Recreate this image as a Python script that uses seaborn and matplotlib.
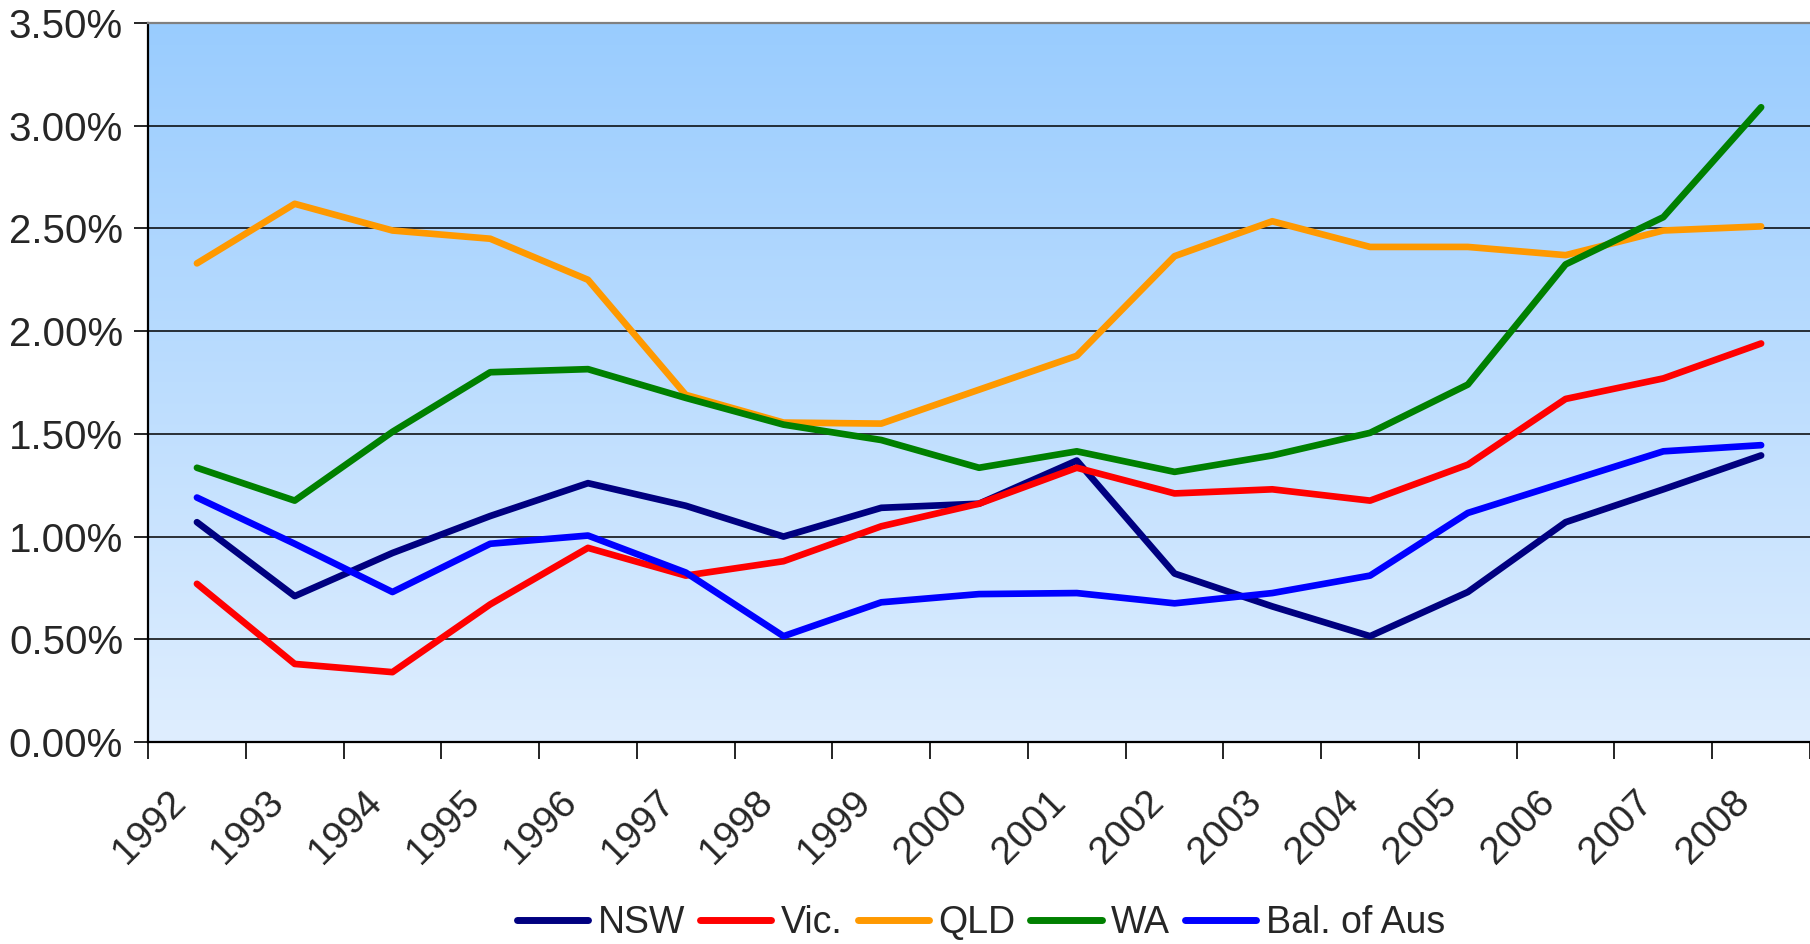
import numpy as np
import pandas as pd
import matplotlib
matplotlib.use("Agg")
import matplotlib.pyplot as plt
from matplotlib.ticker import PercentFormatter
import seaborn as sns

years = [str(y) for y in range(1992, 2009)]

nsw = [1.07, 0.71, 0.92, 1.10, 1.26, 1.15, 1.00, 1.14, 1.16, 1.37, 0.82, 0.66, 0.515, 0.73, 1.07, 1.23, 1.395]
vic = [0.77, 0.38, 0.34, 0.67, 0.945, 0.81, 0.88, 1.05, 1.16, 1.335, 1.21, 1.23, 1.175, 1.35, 1.67, 1.77, 1.94]
qld = [2.33, 2.62, 2.49, 2.45, 2.25, 1.69, 1.555, 1.55, 1.715, 1.88, 2.365, 2.535, 2.41, 2.41, 2.37, 2.49, 2.51]
wa = [1.335, 1.175, 1.51, 1.80, 1.815, 1.675, 1.545, 1.47, 1.335, 1.415, 1.315, 1.395, 1.505, 1.74, 2.325, 2.555, 3.09]
bal = [1.19, 0.965, 0.73, 0.965, 1.005, 0.825, 0.515, 0.68, 0.72, 0.725, 0.675, 0.725, 0.81, 1.115, 1.265, 1.415, 1.445]

series = ["NSW", "Vic.", "QLD", "WA", "Bal. of Aus"]
colors = ["#000080", "#FF0000", "#FF9900", "#008000", "#0000FF"]

df = pd.DataFrame({"x": range(len(years)), "NSW": nsw, "Vic.": vic,
                   "QLD": qld, "WA": wa, "Bal. of Aus": bal})
long = df.melt(id_vars="x", var_name="state", value_name="rate")

sns.set_style("white")
plt.rcParams["font.family"] = ["Liberation Sans", "DejaVu Sans"]

fig = plt.figure(figsize=(18.1, 9.44), dpi=100)
ax = fig.add_axes([0.0818, 0.214, 0.9182, 0.7616])

# gradient background
grad = np.linspace(0, 1, 256).reshape(-1, 1)
top = np.array([153, 204, 255]) / 255
bot = np.array([223, 238, 254]) / 255
img = (top * (1 - grad) + bot * grad).reshape(256, 1, 3)
ax.imshow(img, extent=[-0.5, 16.5, 0, 3.5], aspect="auto", zorder=0)

sns.lineplot(data=long, x="x", y="rate", hue="state", hue_order=series,
             palette=dict(zip(series, colors)), ax=ax, zorder=3, legend=True)
for ln in ax.get_lines():
    ln.set_linewidth(4.8)
    ln.set_solid_capstyle("round")
    ln.set_solid_joinstyle("round")

ax.set_xlim(-0.5, 16.5)
ax.set_ylim(0, 3.5)
ax.set_yticks(np.arange(0, 3.51, 0.5))
ax.yaxis.set_major_formatter(PercentFormatter(decimals=2))
ax.yaxis.grid(True, color="black", linewidth=1.1)
for gl in ax.get_ygridlines():
    gl.set_zorder(1)

# ticks on category boundaries; labels a bit left of each centre like excel
ax.set_xticks(np.arange(-0.5, 17, 1))
ax.set_xticklabels([])
ax.set_xticks(np.arange(len(years)) - 0.3, minor=True)
ax.set_xticklabels(years, minor=True, rotation=45, ha="right",
                   rotation_mode="anchor", fontsize=28)
ax.tick_params(axis="x", which="major", direction="out", length=12,
               width=1.2, color="black", bottom=True)
ax.tick_params(axis="x", which="minor", length=0, pad=30)
ax.tick_params(axis="y", direction="out", length=10, width=1.2,
               color="black", left=True, labelsize=29, pad=8)

ax.set_xlabel("")
ax.set_ylabel("")
for s in ["left", "bottom"]:
    ax.spines[s].set_color("black")
    ax.spines[s].set_linewidth(1.6)
ax.spines["top"].set_color("#808080")
ax.spines["top"].set_linewidth(1.6)
ax.spines["right"].set_visible(False)

handles, labels = ax.get_legend_handles_labels()
ax.get_legend().remove()
leg = fig.legend(handles, labels, loc="center", bbox_to_anchor=(0.542, 0.022),
                 ncol=5, frameon=False, fontsize=27, handlelength=1.9,
                 handletextpad=0.25, columnspacing=0.4, borderpad=0)
for h in leg.get_lines():
    h.set_linewidth(5)

fig.savefig("out.png", dpi=100)
